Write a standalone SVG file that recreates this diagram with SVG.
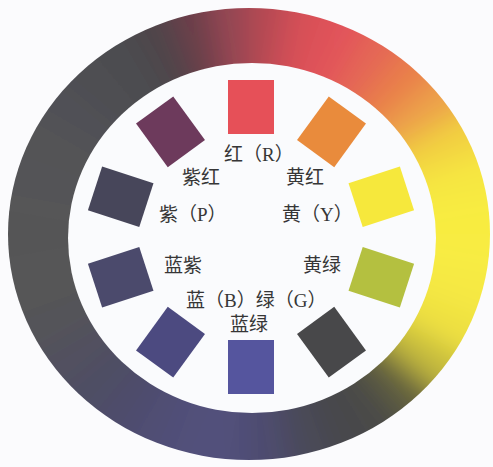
<svg xmlns="http://www.w3.org/2000/svg" width="493" height="467" viewBox="0 0 493 467">
<defs>
<clipPath id="outerClip"><ellipse cx="249" cy="234" rx="241" ry="226"/></clipPath>
<filter id="soft" x="-20%" y="-20%" width="140%" height="140%"><feGaussianBlur stdDeviation="14"/></filter>
<style>
.lbl{font-family:"Liberation Serif","Noto Sans CJK SC",serif;font-size:19px;fill:#363636}
.sq{stroke:none}
</style>
</defs>
<rect width="493" height="467" fill="#fbfbfd"/>
<g id="ring" clip-path="url(#outerClip)">
<g filter="url(#soft)">
<path d="M249 234L249 -86L304.6 -81.1Z" fill="#b84a52"/>
<path d="M249 234L304.6 -81.1L358.4 -66.7Z" fill="#d84f57"/>
<path d="M249 234L358.4 -66.7L409 -43.1Z" fill="#e2525a"/>
<path d="M249 234L409 -43.1L454.7 -11.1Z" fill="#e46654"/>
<path d="M249 234L454.7 -11.1L494.1 28.3Z" fill="#e97e4a"/>
<path d="M249 234L494.1 28.3L526.1 74Z" fill="#eca048"/>
<path d="M249 234L526.1 74L549.7 124.6Z" fill="#f2d040"/>
<path d="M249 234L549.7 124.6L564.1 178.4Z" fill="#f6e640"/>
<path d="M249 234L564.1 178.4L569 234Z" fill="#f8ec40"/>
<path d="M249 234L569 234L564.1 289.6Z" fill="#f8ec42"/>
<path d="M249 234L564.1 289.6L549.7 343.4Z" fill="#f5e842"/>
<path d="M249 234L549.7 343.4L526.1 394Z" fill="#eee040"/>
<path d="M249 234L526.1 394L494.1 439.7Z" fill="#c4ba3e"/>
<path d="M249 234L494.1 439.7L454.7 479.1Z" fill="#62603e"/>
<path d="M249 234L454.7 479.1L409 511.1Z" fill="#4a4a46"/>
<path d="M249 234L409 511.1L358.4 534.7Z" fill="#47474b"/>
<path d="M249 234L358.4 534.7L304.6 549.1Z" fill="#4a4958"/>
<path d="M249 234L304.6 549.1L249 554Z" fill="#4e4c6e"/>
<path d="M249 234L249 554L193.4 549.1Z" fill="#514f7a"/>
<path d="M249 234L193.4 549.1L139.6 534.7Z" fill="#514f7a"/>
<path d="M249 234L139.6 534.7L89 511.1Z" fill="#4f4d74"/>
<path d="M249 234L89 511.1L43.3 479.1Z" fill="#4d4b6c"/>
<path d="M249 234L43.3 479.1L3.9 439.7Z" fill="#4e4d64"/>
<path d="M249 234L3.9 439.7L-28.1 394Z" fill="#51505e"/>
<path d="M249 234L-28.1 394L-51.7 343.4Z" fill="#535358"/>
<path d="M249 234L-51.7 343.4L-66.1 289.6Z" fill="#545457"/>
<path d="M249 234L-66.1 289.6L-71 234Z" fill="#545457"/>
<path d="M249 234L-71 234L-66.1 178.4Z" fill="#545457"/>
<path d="M249 234L-66.1 178.4L-51.7 124.6Z" fill="#535356"/>
<path d="M249 234L-51.7 124.6L-28.1 74Z" fill="#525255"/>
<path d="M249 234L-28.1 74L3.9 28.3Z" fill="#505054"/>
<path d="M249 234L3.9 28.3L43.3 -11.1Z" fill="#4e4e51"/>
<path d="M249 234L43.3 -11.1L89 -43.1Z" fill="#4c4b50"/>
<path d="M249 234L89 -43.1L139.6 -66.7Z" fill="#4e444a"/>
<path d="M249 234L139.6 -66.7L193.4 -81.1Z" fill="#6a3e48"/>
<path d="M249 234L193.4 -81.1L249 -86Z" fill="#944652"/>
</g>
</g>
<ellipse id="inner" cx="252" cy="238" rx="184" ry="175" fill="#fafbfd"/>
<g id="squares">
<g id="sq-red"><rect class="sq" x="-23" y="-27" width="46" height="54" transform="translate(251 107)" fill="#e65058"/></g>
<g id="sq-yellowred"><rect class="sq" x="-23" y="-27" width="46" height="54" transform="translate(331.5 131.8) rotate(36)" fill="#e98b3c"/></g>
<g id="sq-yellow"><rect class="sq" x="-23" y="-27" width="46" height="54" transform="translate(381.3 196.8) rotate(72)" fill="#f6e83c"/></g>
<g id="sq-yellowgreen"><rect class="sq" x="-23" y="-27" width="46" height="54" transform="translate(381.3 277.2) rotate(108)" fill="#b4c040"/></g>
<g id="sq-green"><rect class="sq" x="-23" y="-27" width="46" height="54" transform="translate(331.5 342.2) rotate(144)" fill="#48484a"/></g>
<g id="sq-bluegreen"><rect class="sq" x="-23" y="-27" width="46" height="54" transform="translate(251 367)" fill="#55559e"/></g>
<g id="sq-blue"><rect class="sq" x="-23" y="-27" width="46" height="54" transform="translate(170.5 342.2) rotate(216)" fill="#4c4a80"/></g>
<g id="sq-bluepurple"><rect class="sq" x="-23" y="-27" width="46" height="54" transform="translate(120.7 277.2) rotate(252)" fill="#4b4a6c"/></g>
<g id="sq-purple"><rect class="sq" x="-23" y="-27" width="46" height="54" transform="translate(120.7 196.8) rotate(288)" fill="#47465a"/></g>
<g id="sq-purplered"><rect class="sq" x="-23" y="-27" width="46" height="54" transform="translate(170.5 131.8) rotate(324)" fill="#6d3a5c"/></g>
</g>
<g id="labels">
<text class="lbl" x="224" y="161">红（R）</text>
<text class="lbl" x="182" y="184">紫红</text>
<text class="lbl" x="286" y="184">黄红</text>
<text class="lbl" x="159" y="221">紫（P）</text>
<text class="lbl" x="282" y="221">黄（Y）</text>
<text class="lbl" x="164" y="272">蓝紫</text>
<text class="lbl" x="303" y="272">黄绿</text>
<text class="lbl" x="186" y="307">蓝（B）绿（G）</text>
<text class="lbl" x="230" y="331">蓝绿</text>
</g>
</svg>
